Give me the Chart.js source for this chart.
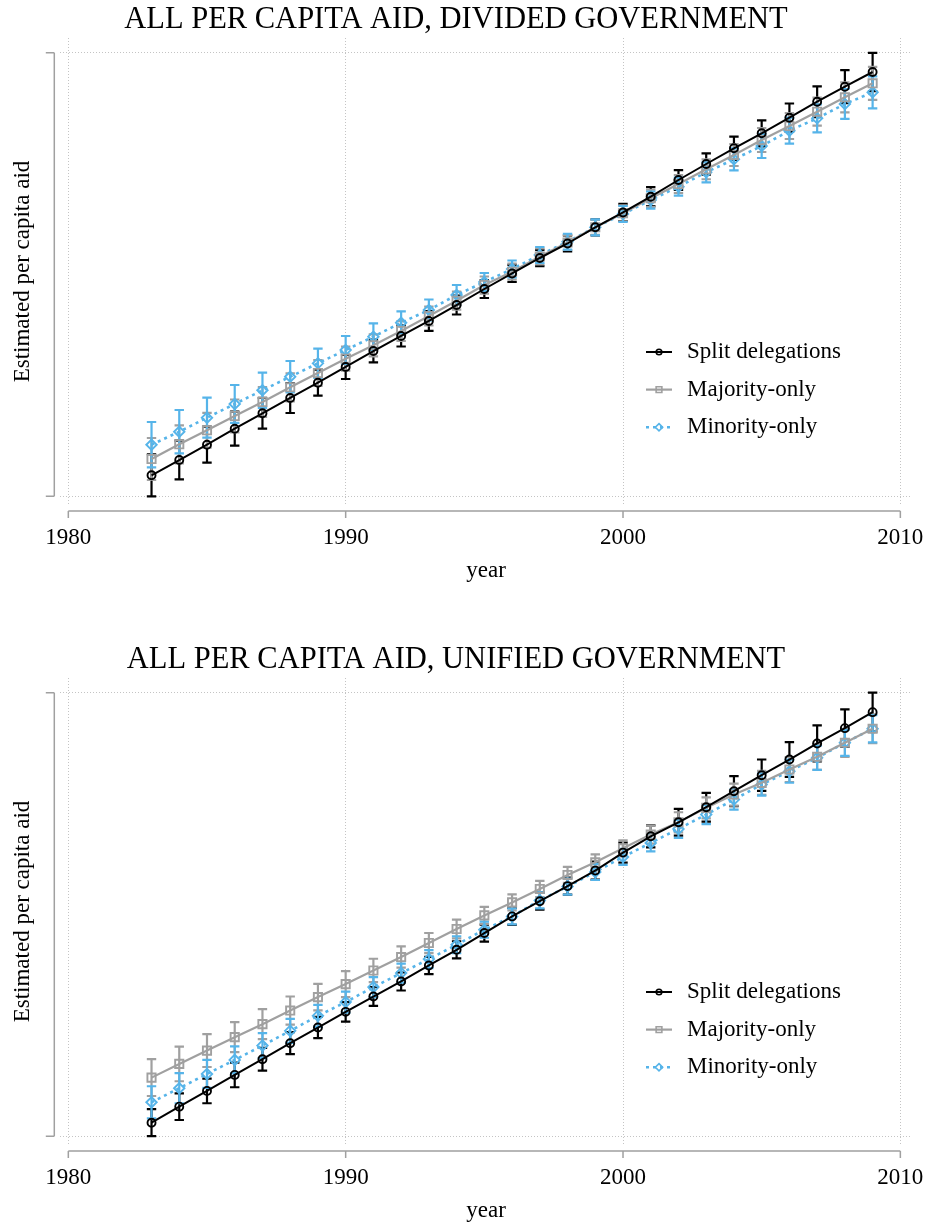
<!DOCTYPE html>
<html>
<head>
<meta charset="utf-8">
<title>All per capita aid</title>
<script src="https://cdn.jsdelivr.net/npm/chart.js@4/dist/chart.umd.min.js"></script>
<style>
  html, body { margin: 0; padding: 0; background: #ffffff; width: 929px; height: 1224px; overflow: hidden; }
  .panel { position: absolute; left: 0; width: 929px; height: 612px; }
</style>
</head>
<body>
<div class="panel" style="top:0px"><canvas id="divided" width="929" height="612"></canvas></div>
<div class="panel" style="top:640px"><canvas id="unified" width="929" height="612"></canvas></div>
<script>
// ---- data ----------------------------------------------------------------
const years = [1983, 1984, 1985, 1986, 1987, 1988, 1989, 1990, 1991, 1992, 1993, 1994, 1995, 1996,
               1997, 1998, 1999, 2000, 2001, 2002, 2003, 2004, 2005, 2006, 2007, 2008, 2009];

const xTicks = [1980, 1990, 2000, 2010];
const yTicks = [0, 100];

const seriesLabels = ['Split delegations', 'Majority-only', 'Minority-only'];

// Divided government: point estimates and half-widths of the confidence intervals
const divSplit    = [4.73, 8.18, 11.63, 15.24, 18.71, 22.16, 25.61, 29.15, 32.75, 36.14, 39.52, 43.12, 46.73, 50.23,
                     53.72, 56.99, 60.64, 63.98, 67.54, 71.30, 74.91, 78.45, 81.83, 85.35, 88.95, 92.34, 95.65];
const divSplitErr = [4.75, 4.35, 4.06, 3.83, 3.47, 3.38, 2.93, 2.71, 2.55, 2.37, 2.25, 2.14, 2.03, 1.92,
                     1.85, 1.80, 1.80, 1.92, 2.14, 2.25, 2.41, 2.61, 2.93, 3.20, 3.47, 3.72, 4.30];
const divMaj      = [8.41, 11.72, 14.88, 18.10, 21.26, 24.57, 27.80, 31.02, 34.04, 37.26, 40.64, 44.09, 47.63, 50.63,
                     54.06, 57.21, 60.64, 63.80, 67.18, 70.40, 73.72, 76.94, 80.32, 83.48, 86.70, 89.95, 93.10];
const divMajErr   = [4.73, 4.28, 3.94, 3.72, 3.38, 3.16, 2.93, 2.71, 2.48, 2.25, 2.14, 2.03, 1.92, 1.80,
                     1.80, 1.69, 1.69, 1.80, 1.92, 2.03, 2.25, 2.48, 2.71, 2.93, 3.16, 3.38, 3.72];
const divMin      = [11.63, 14.56, 17.72, 20.81, 23.90, 26.96, 29.98, 32.98, 35.98, 39.13, 42.00, 45.38, 48.31, 51.24,
                     54.40, 57.39, 60.64, 63.64, 66.79, 69.79, 73.04, 75.97, 78.97, 82.42, 85.21, 88.44, 91.07];
const divMinErr   = [5.12, 4.89, 4.51, 4.28, 3.97, 3.54, 3.29, 3.16, 3.00, 2.57, 2.37, 2.25, 2.03, 1.92,
                     1.80, 1.80, 1.80, 1.80, 1.92, 2.03, 2.25, 2.48, 2.71, 2.93, 3.16, 3.38, 3.61];

// Unified government
const uniSplit    = [3.07, 6.68, 10.23, 13.84, 17.38, 20.99, 24.51, 28.06, 31.51, 34.90, 38.51, 42.05, 45.82, 49.57,
                     53.00, 56.40, 59.90, 63.95, 67.63, 70.79, 74.18, 77.79, 81.40, 84.94, 88.56, 92.01, 95.62];
const uniSplitErr = [3.05, 3.00, 2.78, 2.78, 2.57, 2.48, 2.39, 2.19, 2.10, 2.03, 1.96, 1.92, 1.92, 1.92,
                     1.92, 1.92, 2.03, 2.26, 2.48, 3.02, 3.25, 3.39, 3.54, 3.91, 4.06, 4.22, 4.38];
const uniMaj      = [13.23, 16.32, 19.32, 22.35, 25.28, 28.35, 31.38, 34.31, 37.38, 40.41, 43.57, 46.73, 49.80, 52.73,
                     55.76, 58.92, 61.76, 64.92, 68.01, 70.79, 74.04, 77.04, 79.68, 82.69, 85.55, 88.71, 91.87];
const uniMajErr   = [4.15, 3.91, 3.70, 3.39, 3.39, 3.16, 3.00, 2.93, 2.64, 2.39, 2.26, 2.10, 1.92, 1.81,
                     1.81, 1.81, 1.81, 1.81, 2.03, 2.26, 2.37, 2.48, 2.71, 2.82, 2.93, 3.16, 3.27];
const uniMin      = [7.67, 10.84, 14.06, 17.22, 20.45, 23.77, 27.16, 30.25, 33.63, 36.79, 39.95, 43.18, 46.57, 49.57,
                     53.18, 56.30, 59.59, 62.98, 66.14, 69.30, 72.53, 75.91, 79.30, 82.30, 85.33, 88.71, 91.87];
const uniMinErr   = [3.61, 3.39, 3.16, 3.05, 2.82, 2.71, 2.48, 2.37, 2.26, 2.14, 2.03, 1.92, 1.81, 1.81,
                     1.81, 1.81, 1.81, 1.81, 1.92, 2.03, 2.14, 2.26, 2.48, 2.60, 2.71, 2.93, 3.05];

// ---- styling ---------------------------------------------------------------
const SERIF = "'Liberation Serif', 'Times New Roman', 'DejaVu Serif', serif";
const GRID = '#c4c4c4';
const AXIS = '#a0a0a0';
const seriesStyle = [
  { color: '#000000', pointStyle: 'circle',  radius: 4.0, lineWidth: 2,   dash: [] },
  { color: '#a0a0a0', pointStyle: 'rect',    radius: 5.8, lineWidth: 2.2, dash: [] },
  { color: '#56b4e9', pointStyle: 'rectRot', radius: 5.2, lineWidth: 2.6, dash: [3, 4] }
];

Chart.defaults.font.family = SERIF;
Chart.defaults.color = '#000000';

// Vertical confidence-interval caps, drawn beneath the lines
const errorBars = {
  id: 'errorBars',
  beforeDatasetsDraw(chart) {
    const { ctx, chartArea, scales: { x, y } } = chart;
    ctx.save();
    ctx.beginPath();
    ctx.rect(chartArea.left, chartArea.top, chartArea.right - chartArea.left, chartArea.bottom - chartArea.top);
    ctx.clip();
    chart.data.datasets.forEach((ds) => {
      ctx.strokeStyle = ds.borderColor;
      ctx.lineWidth = 2.2;
      ctx.setLineDash([]);
      ds.data.forEach((p, j) => {
        const e = ds.errors[j];
        const px = x.getPixelForValue(p.x);
        const top = y.getPixelForValue(p.y + e);
        const bot = y.getPixelForValue(p.y - e);
        ctx.beginPath();
        ctx.moveTo(px, top); ctx.lineTo(px, bot);
        ctx.moveTo(px - 4.7, top); ctx.lineTo(px + 4.7, top);
        ctx.moveTo(px - 4.7, bot); ctx.lineTo(px + 4.7, bot);
        ctx.stroke();
      });
    });
    ctx.restore();
  }
};

// Axis lines set slightly apart from the plot region
const offsetAxes = {
  id: 'offsetAxes',
  afterDraw(chart) {
    const { ctx, chartArea, scales: { x, y } } = chart;
    ctx.save();
    ctx.strokeStyle = AXIS;
    ctx.lineWidth = 1.5;
    ctx.beginPath();
    const ax = chartArea.left - 5.7;
    ctx.moveTo(ax, y.getPixelForValue(yTicks[0]));
    ctx.lineTo(ax, y.getPixelForValue(yTicks[yTicks.length - 1]));
    yTicks.forEach(v => { const p = y.getPixelForValue(v); ctx.moveTo(ax, p); ctx.lineTo(ax - 8.5, p); });
    const ay = chartArea.bottom + 6;
    ctx.moveTo(x.getPixelForValue(xTicks[0]), ay);
    ctx.lineTo(x.getPixelForValue(xTicks[xTicks.length - 1]), ay);
    xTicks.forEach(v => { const p = x.getPixelForValue(v); ctx.moveTo(p, ay); ctx.lineTo(p, ay + 7); });
    ctx.stroke();
    ctx.restore();
  }
};

function markerPath(ctx, style, cx, cy, r) {
  ctx.beginPath();
  if (style === 'circle') {
    ctx.arc(cx, cy, r, 0, Math.PI * 2);
  } else if (style === 'rect') {
    const h = r * Math.SQRT1_2;
    ctx.rect(cx - h, cy - h, 2 * h, 2 * h);
  } else {
    ctx.moveTo(cx, cy - r); ctx.lineTo(cx + r, cy); ctx.lineTo(cx, cy + r); ctx.lineTo(cx - r, cy); ctx.closePath();
  }
}

// Legend placed inside the plot region, lower right
const insideLegend = {
  id: 'insideLegend',
  afterDraw(chart) {
    const { ctx, chartArea } = chart;
    const x0 = chartArea.left + 586;
    const y0 = chartArea.top + 314;
    const gap = 37.6;
    chart.data.datasets.forEach((ds, i) => {
      const yy = y0 + i * gap;
      ctx.save();
      ctx.strokeStyle = ds.borderColor;
      ctx.lineWidth = ds.borderWidth;
      ctx.setLineDash(ds.borderDash || []);
      ctx.beginPath(); ctx.moveTo(x0, yy); ctx.lineTo(x0 + 26, yy); ctx.stroke();
      ctx.setLineDash([]);
      ctx.lineWidth = 1.6;
      markerPath(ctx, ds.pointStyle, x0 + 13, yy, ds.pointRadius * 0.7);
      ctx.stroke();
      ctx.fillStyle = '#000000';
      ctx.font = '23px ' + SERIF;
      ctx.textBaseline = 'middle';
      ctx.textAlign = 'left';
      ctx.fillText(ds.label, x0 + 41, yy);
      ctx.restore();
    });
  }
};

function makePanel(canvasId, titleText, series) {
  return new Chart(document.getElementById(canvasId), {
    type: 'line',
    data: {
      datasets: series.map((s, i) => ({
        label: seriesLabels[i],
        data: years.map((yr, j) => ({ x: yr, y: s.values[j] })),
        errors: s.errors,
        borderColor: seriesStyle[i].color,
        borderWidth: seriesStyle[i].lineWidth,
        borderDash: seriesStyle[i].dash,
        pointStyle: seriesStyle[i].pointStyle,
        pointRadius: seriesStyle[i].radius,
        pointBorderWidth: 1.9,
        pointBorderColor: seriesStyle[i].color,
        pointBackgroundColor: 'rgba(0,0,0,0)',
        tension: 0,
        fill: false
      }))
    },
    options: {
      responsive: false,
      animation: false,
      devicePixelRatio: 1,
      layout: { padding: { left: 0, right: 17, top: 0, bottom: 0 } },
      plugins: {
        legend: { display: false },
        tooltip: { enabled: false },
        title: {
          display: true,
          text: titleText,
          color: '#000000',
          font: { size: 30.5, family: SERIF, weight: 'normal' },
          padding: { top: 1.4, bottom: 0 }
        }
      },
      scales: {
        x: {
          type: 'linear',
          min: 1979.70,
          max: 2010.42,
          afterBuildTicks(s) { s.ticks = xTicks.map(v => ({ value: v })); },
          afterFit(s) { s.height = 107; s.paddingLeft = 0; s.paddingRight = 0; },
          grid: { color: GRID, lineWidth: 1, drawTicks: false },
          border: { display: false, dash: [1, 2] },
          ticks: { padding: 18.7, color: '#000000', font: { size: 23 }, maxRotation: 0, autoSkip: false,
                   callback: v => String(v) },
          title: { display: true, text: 'year', color: '#000000', font: { size: 23 }, padding: { top: 0, bottom: 27.2 } }
        },
        y: {
          type: 'linear',
          min: -1.961,
          max: 103.314,
          afterBuildTicks(s) { s.ticks = yTicks.map(v => ({ value: v })); },
          afterFit(s) { s.width = 60; s.paddingTop = 0; s.paddingBottom = 0; },
          grid: { color: GRID, lineWidth: 1, drawTicks: false },
          border: { display: false, dash: [1, 2] },
          ticks: { display: false },
          title: { display: true, text: 'Estimated per capita aid', color: '#000000', font: { size: 23 },
                   padding: { top: 9, bottom: 0 } }
        }
      }
    },
    plugins: [errorBars, offsetAxes, insideLegend]
  });
}

makePanel('divided', 'ALL PER CAPITA AID, DIVIDED GOVERNMENT', [
  { values: divSplit, errors: divSplitErr },
  { values: divMaj,   errors: divMajErr },
  { values: divMin,   errors: divMinErr }
]);

makePanel('unified', 'ALL PER CAPITA AID, UNIFIED GOVERNMENT', [
  { values: uniSplit, errors: uniSplitErr },
  { values: uniMaj,   errors: uniMajErr },
  { values: uniMin,   errors: uniMinErr }
]);
</script>
</body>
</html>
